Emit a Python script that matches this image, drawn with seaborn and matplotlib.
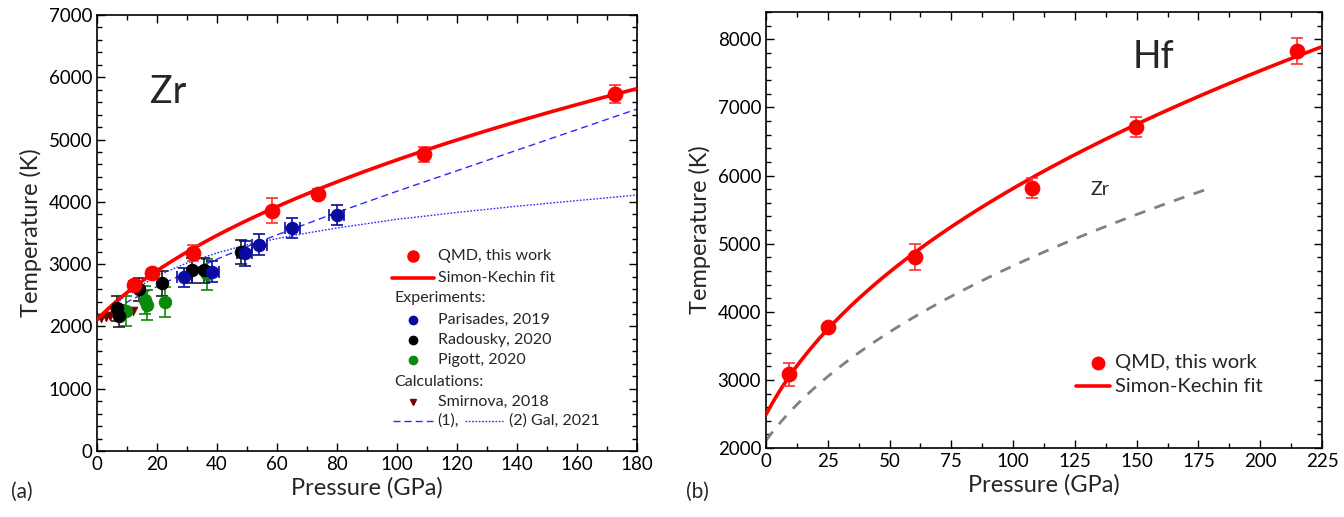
import numpy as np
import pandas as pd
import matplotlib
matplotlib.use("Agg")
import matplotlib.pyplot as plt
from matplotlib.ticker import MultipleLocator
import seaborn as sns

# ---------------- Zr melting data ----------------
qmd_zr_p = [12.4, 18.2, 32.1, 58.4, 73.7, 109.0, 172.7]
qmd_zr_t = [2660, 2855, 3180, 3860, 4125, 4765, 5730]
qmd_zr_err = [70, 70, 130, 200, 80, 120, 150]

parisades_p = [29.1, 38.2, 49.3, 54.0, 65.1, 79.9]
parisades_t = [2790, 2880, 3175, 3315, 3575, 3790]
parisades_terr = [150, 170, 200, 170, 160, 160]
parisades_perr = [2.5, 2.5, 2.5, 2.5, 2.5, 2.5]

radousky_p = [6.6, 7.3, 14.1, 21.6, 31.8, 35.6, 47.9]
radousky_t = [2290, 2165, 2595, 2690, 2900, 2900, 3200]
radousky_err = [200, 180, 190, 200, 200, 200, 190]

pigott_p = [9.6, 16.0, 16.6, 22.7, 36.6]
pigott_t = [2250, 2425, 2340, 2395, 2835]
pigott_err = [240, 230, 240, 245, 250]

smirnova_p = [1.5, 3.0, 4.5, 6.0, 7.5, 9.0, 10.5, 12.0]
smirnova_t = [2130, 2150, 2165, 2180, 2200, 2215, 2225, 2245]

gal_p = [0, 10, 20, 30, 40, 50, 60, 70, 80, 90, 100, 120, 140, 160, 180]
gal1_t = [2090, 2390, 2640, 2870, 3080, 3280, 3470, 3650, 3830, 4000, 4170, 4500, 4830, 5160, 5490]
gal2_t = [2090, 2520, 2810, 3020, 3180, 3310, 3410, 3500, 3580, 3650, 3720, 3830, 3930, 4020, 4110]

# Simon-Kechin fit parameters: T = T0 * (1 + P/a)**b
zr_fit = dict(T0=2110.0, a=18.0, b=0.423)
hf_fit = dict(T0=2490.0, a=15.0, b=0.416)

# ---------------- Hf melting data ----------------
qmd_hf_p = [9.5, 25.2, 60.3, 107.6, 149.7, 215.0]
qmd_hf_t = [3080, 3778, 4805, 5815, 6710, 7830]
qmd_hf_err = [170, 40, 190, 150, 150, 190]


def simon(p, T0, a, b):
    return T0 * (1.0 + np.asarray(p) / a) ** b


sns.set_style("ticks")
plt.rcParams["font.family"] = ["Lato", "DejaVu Sans"]

fig = plt.figure(figsize=(13.44, 5.17), dpi=100)
ax1 = fig.add_axes([97 / 1344, 1 - 451 / 517, 540 / 1344, 436 / 517])
ax2 = fig.add_axes([766 / 1344, 1 - 448 / 517, 556 / 1344, 436 / 517])

RED = "#ff0000"
BLUE_LINE = "#2a2aff"
NAVY = "#0a0aa0"
GREEN = "#0a8a0a"
DARKRED = "#7a0000"

# ---------------- panel (a): Zr ----------------
p_zr = np.linspace(0, 180, 400)
fit_zr_df = pd.DataFrame({"P": p_zr, "T": simon(p_zr, **zr_fit)})
gal_df = pd.DataFrame({"P": gal_p, "T1": gal1_t, "T2": gal2_t})

sns.lineplot(data=gal_df, x="P", y="T1", ax=ax1, color=BLUE_LINE, lw=1.0,
             linestyle=(0, (5, 3)), zorder=2)
sns.lineplot(data=gal_df, x="P", y="T2", ax=ax1, color=BLUE_LINE, lw=1.0,
             linestyle=(0, (1.2, 1.2)), zorder=2)
sns.lineplot(data=fit_zr_df, x="P", y="T", ax=ax1, color=RED, lw=2.6, zorder=4)

ax1.errorbar(pigott_p, pigott_t, yerr=pigott_err, fmt="none", ecolor=GREEN,
             elinewidth=1.2, capsize=4, capthick=1.2, zorder=3)
ax1.errorbar(radousky_p, radousky_t, yerr=radousky_err, fmt="none", ecolor="#202020",
             elinewidth=1.2, capsize=4, capthick=1.2, zorder=3)
ax1.errorbar(parisades_p, parisades_t, yerr=parisades_terr, xerr=parisades_perr,
             fmt="none", ecolor=NAVY, elinewidth=1.2, capsize=4, capthick=1.2, zorder=3)
ax1.errorbar(qmd_zr_p, qmd_zr_t, yerr=qmd_zr_err, fmt="none", ecolor="#ff3030",
             elinewidth=1.2, capsize=4, capthick=1.2, zorder=5)

sns.scatterplot(x=smirnova_p, y=smirnova_t, ax=ax1, marker="v", s=40, color=DARKRED,
                edgecolor=DARKRED, zorder=3)
sns.scatterplot(x=pigott_p, y=pigott_t, ax=ax1, s=80, color=GREEN, edgecolor=GREEN, zorder=4)
sns.scatterplot(x=radousky_p, y=radousky_t, ax=ax1, s=80, color="black", edgecolor="black", zorder=4)
sns.scatterplot(x=parisades_p, y=parisades_t, ax=ax1, s=80, color=NAVY, edgecolor=NAVY, zorder=4)
sns.scatterplot(x=qmd_zr_p, y=qmd_zr_t, ax=ax1, s=110, color=RED, edgecolor=RED, zorder=6)

ax1.set_xlim(0, 180)
ax1.set_ylim(0, 7000)
ax1.xaxis.set_major_locator(MultipleLocator(20))
ax1.xaxis.set_minor_locator(MultipleLocator(10))
ax1.yaxis.set_major_locator(MultipleLocator(1000))
ax1.yaxis.set_minor_locator(MultipleLocator(200))
ax1.text(0.131, 0.823, "Zr", transform=ax1.transAxes, fontsize=27, ha="center", va="center")

# legend block of panel (a)
leg_fs = 11.5
tr = ax1.transAxes
ax1.plot([0.585], [0.447], "o", color=RED, ms=8, transform=tr, clip_on=False)
ax1.text(0.631, 0.447, "QMD, this work", transform=tr, fontsize=leg_fs, va="center")
ax1.plot([0.546, 0.624], [0.397, 0.397], color=RED, lw=2.6, transform=tr)
ax1.text(0.631, 0.397, "Simon-Kechin fit", transform=tr, fontsize=leg_fs, va="center")
ax1.text(0.550, 0.351, "Experiments:", transform=tr, fontsize=leg_fs, va="center")
for yy, col, lab in [(0.300, NAVY, "Parisades, 2019"),
                     (0.2546, "black", "Radousky, 2020"),
                     (0.2087, GREEN, "Pigott, 2020")]:
    ax1.plot([0.585], [yy], "o", color=col, ms=6, transform=tr)
    ax1.text(0.631, yy, lab, transform=tr, fontsize=leg_fs, va="center")
ax1.text(0.550, 0.159, "Calculations:", transform=tr, fontsize=leg_fs, va="center")
ax1.plot([0.585], [0.113], "v", color=DARKRED, ms=5, transform=tr)
ax1.text(0.631, 0.113, "Smirnova, 2018", transform=tr, fontsize=leg_fs, va="center")
ax1.plot([0.548, 0.622], [0.0688, 0.0688], color=BLUE_LINE, lw=1.0,
         linestyle=(0, (5, 3)), transform=tr)
ax1.text(0.631, 0.0688, "(1),", transform=tr, fontsize=leg_fs, va="center")
ax1.plot([0.681, 0.752], [0.0688, 0.0688], color=BLUE_LINE, lw=1.0,
         linestyle=(0, (1.2, 1.2)), transform=tr)
ax1.text(0.763, 0.0688, "(2) Gal, 2021", transform=tr, fontsize=leg_fs, va="center")

# ---------------- panel (b): Hf ----------------
p_hf = np.linspace(0, 225, 400)
fit_hf_df = pd.DataFrame({"P": p_hf, "T": simon(p_hf, **hf_fit)})
p_zr_b = np.linspace(0, 180, 300)
zr_b_df = pd.DataFrame({"P": p_zr_b, "T": simon(p_zr_b, **zr_fit)})

sns.lineplot(data=zr_b_df, x="P", y="T", ax=ax2, color="#808080", lw=2.0,
             linestyle=(0, (4, 3.5)), zorder=2)
sns.lineplot(data=fit_hf_df, x="P", y="T", ax=ax2, color=RED, lw=2.6, zorder=3)
ax2.errorbar(qmd_hf_p, qmd_hf_t, yerr=qmd_hf_err, fmt="none", ecolor="#ff3030",
             elinewidth=1.2, capsize=4, capthick=1.2, zorder=4)
sns.scatterplot(x=qmd_hf_p, y=qmd_hf_t, ax=ax2, s=110, color=RED, edgecolor=RED, zorder=5)

ax2.set_xlim(0, 225)
ax2.set_ylim(2000, 8400)
ax2.xaxis.set_major_locator(MultipleLocator(25))
ax2.xaxis.set_minor_locator(MultipleLocator(12.5))
ax2.yaxis.set_major_locator(MultipleLocator(1000))
ax2.yaxis.set_minor_locator(MultipleLocator(200))
ax2.text(0.696, 0.897, "Hf", transform=ax2.transAxes, fontsize=27, ha="center", va="center")
ax2.text(0.601, 0.592, "Zr", transform=ax2.transAxes, fontsize=14, ha="center", va="center")

leg_fs2 = 14.5
tr2 = ax2.transAxes
ax2.plot([0.597], [0.195], "o", color=RED, ms=9, transform=tr2)
ax2.text(0.627, 0.195, "QMD, this work", transform=tr2, fontsize=leg_fs2, va="center")
ax2.plot([0.558, 0.618], [0.142, 0.142], color=RED, lw=2.6, transform=tr2)
ax2.text(0.627, 0.142, "Simon-Kechin fit", transform=tr2, fontsize=leg_fs2, va="center")

for ax in (ax1, ax2):
    ax.set_xlabel("Pressure (GPa)", fontsize=17, labelpad=3)
    ax.set_ylabel("Temperature (K)", fontsize=17, labelpad=5)
    ax.tick_params(which="both", direction="in", top=True, right=True,
                   labelsize=13.5, width=1.0, colors="black")
    ax.tick_params(which="major", length=6)
    ax.tick_params(which="minor", length=3.5)
    for sp in ax.spines.values():
        sp.set_visible(True)
        sp.set_linewidth(1.2)
        sp.set_color("black")

fig.text(0.0164, 0.048, "(a)", fontsize=15, ha="center", va="center")
fig.text(0.5186, 0.048, "(b)", fontsize=15, ha="center", va="center")

fig.savefig("out.png", dpi=100)
